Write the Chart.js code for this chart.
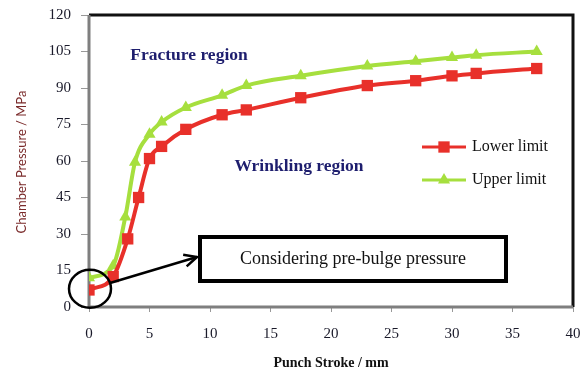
<!DOCTYPE html>
<html>
<head>
<meta charset="utf-8">
<script src="https://cdn.jsdelivr.net/npm/chart.js@4.4.0/dist/chart.umd.min.js"></script>
<style>
html,body{margin:0;padding:0;background:#fff;}
#wrap{width:586px;height:376px;position:relative;}
</style>
</head>
<body>
<div id="wrap"><canvas id="c" width="586" height="376"></canvas></div>
<script>
const strokeLower = [0, 2, 3.2, 4.1, 5, 6, 8, 11, 13, 17.5, 23, 27, 30, 32, 37];
const pressureLower = [7, 12.5, 28, 45, 61, 66, 73, 79, 81, 86, 91, 93, 95, 96, 98];
const strokeUpper = [0, 2, 3, 3.8, 5, 6, 8, 11, 13, 17.5, 23, 27, 30, 32, 37];
const pressureUpper = [12, 17, 37, 59.5, 71, 76, 82, 87, 91, 95, 99, 101, 102.5, 103.5, 105];
const xTicks = [0, 5, 10, 15, 20, 25, 30, 35, 40];
const yTicks = [0, 15, 30, 45, 60, 75, 90, 105, 120];
const seriesNames = ['Lower limit', 'Upper limit'];
const RED = '#e8302a', GREEN = '#a6df3e';
const SERIF = '"Liberation Serif", "Times New Roman", serif';

const overlay = {
  id: 'overlay',
  beforeDatasetsDraw(chart) {
    const {ctx, chartArea: a} = chart;
    ctx.save();
    ctx.lineWidth = 3;
    ctx.strokeStyle = '#111';
    ctx.beginPath();
    ctx.moveTo(a.left, a.top); ctx.lineTo(a.right, a.top); ctx.lineTo(a.right, a.bottom);
    ctx.stroke();
    ctx.strokeStyle = '#7f7f7f';
    ctx.beginPath();
    ctx.moveTo(a.left, a.top); ctx.lineTo(a.left, a.bottom); ctx.lineTo(a.right, a.bottom);
    ctx.stroke();
    ctx.restore();
  },
  afterDatasetsDraw(chart) {
    const {ctx} = chart;
    const xs = chart.scales.x, ys = chart.scales.y;
    ctx.save();
    ctx.fillStyle = '#7a2a2a';
    ctx.font = '13px Lato, "Open Sans", sans-serif';
    ctx.textAlign = 'center'; ctx.textBaseline = 'middle';
    ctx.translate(22, 162); ctx.rotate(-Math.PI/2);
    ctx.fillText('Chamber Pressure / MPa', 0, 0);
    ctx.setTransform(1,0,0,1,0,0);
    ctx.fillStyle = '#111';
    ctx.font = 'bold 14px ' + SERIF;
    ctx.fillText('Punch Stroke / mm', 331, 363);
    ctx.fillStyle = '#1e1e6e';
    ctx.font = 'bold 17.5px ' + SERIF;
    ctx.fillText('Fracture region', 189, 55);
    ctx.fillText('Wrinkling region', 299, 166);
    ctx.fillStyle = '#fff';
    ctx.fillRect(200, 237, 306, 44);
    ctx.lineWidth = 4; ctx.strokeStyle = '#000';
    ctx.strokeRect(200, 237, 306, 44);
    ctx.fillStyle = '#111';
    ctx.font = '18px ' + SERIF;
    ctx.fillText('Considering pre-bulge pressure', 353, 259);
    const cx = xs.getPixelForValue(0) + 1, cy = ys.getPixelForValue(7.5);
    ctx.lineWidth = 2.5;
    ctx.beginPath(); ctx.ellipse(cx, cy, 21, 19, 0, 0, Math.PI*2); ctx.stroke();
    const x1 = 110, y1 = 283, x2 = 197, y2 = 257;
    ctx.beginPath(); ctx.moveTo(x1, y1); ctx.lineTo(x2, y2); ctx.stroke();
    const ang = Math.atan2(y2 - y1, x2 - x1), L = 14;
    ctx.beginPath();
    ctx.moveTo(x2 - L*Math.cos(ang - 0.45), y2 - L*Math.sin(ang - 0.45));
    ctx.lineTo(x2, y2);
    ctx.lineTo(x2 - L*Math.cos(ang + 0.45), y2 - L*Math.sin(ang + 0.45));
    ctx.stroke();
    const ys2 = [147, 180];
    chart.data.datasets.forEach((ds, i) => {
      const y = ys2[i];
      ctx.strokeStyle = ds.borderColor; ctx.lineWidth = 3;
      ctx.beginPath(); ctx.moveTo(422, y); ctx.lineTo(466, y); ctx.stroke();
      ctx.fillStyle = ds.backgroundColor;
      Chart.helpers.drawPoint(ctx, {pointStyle: ds.pointStyle, radius: ds.pointRadius, borderWidth: 0}, 444, y);
      ctx.fillStyle = '#111';
      ctx.font = '16px ' + SERIF;
      ctx.textAlign = 'left';
      ctx.fillText(ds.label, 472, y);
    });
    ctx.restore();
  }
};

new Chart(document.getElementById('c'), {
  type: 'line',
  data: {
    datasets: [
      {label: seriesNames[0], data: strokeLower.map((x, i) => ({x, y: pressureLower[i]})),
       borderColor: RED, backgroundColor: RED, borderWidth: 4, pointStyle: 'rect', pointRadius: 8,
       pointBorderWidth: 0, cubicInterpolationMode: 'monotone'},
      {label: seriesNames[1], data: strokeUpper.map((x, i) => ({x, y: pressureUpper[i]})),
       borderColor: GREEN, backgroundColor: GREEN, borderWidth: 4, pointStyle: 'triangle', pointRadius: 7,
       pointBorderWidth: 0, cubicInterpolationMode: 'monotone'}
    ]
  },
  options: {
    responsive: false, animation: false,
    layout: {padding: {left: 0, top: 15, right: 13, bottom: 0}},
    plugins: {legend: {display: false}, tooltip: {enabled: false}},
    scales: {
      x: {
        type: 'linear', min: 0, max: 40,
        afterBuildTicks: s => { s.ticks = xTicks.map(v => ({value: v})); },
        afterFit: s => { s.height = 69; s.paddingLeft = 0; s.paddingRight = 0; },
        border: {display: false},
        grid: {drawOnChartArea: false, drawTicks: true, tickLength: 5, color: '#999'},
        ticks: {color: '#1a1a2a', font: {family: SERIF, size: 15}, padding: 13, maxRotation: 0}
      },
      y: {
        min: 0, max: 120,
        afterBuildTicks: s => { s.ticks = yTicks.map(v => ({value: v})); },
        afterFit: s => { s.width = 89; s.paddingTop = 0; s.paddingBottom = 0; },
        border: {display: false},
        grid: {drawOnChartArea: false, drawTicks: true, tickLength: 8, color: '#999'},
        ticks: {color: '#1a1a2a', font: {family: SERIF, size: 15}, padding: 10}
      }
    }
  },
  plugins: [overlay]
});
</script>
</body>
</html>
